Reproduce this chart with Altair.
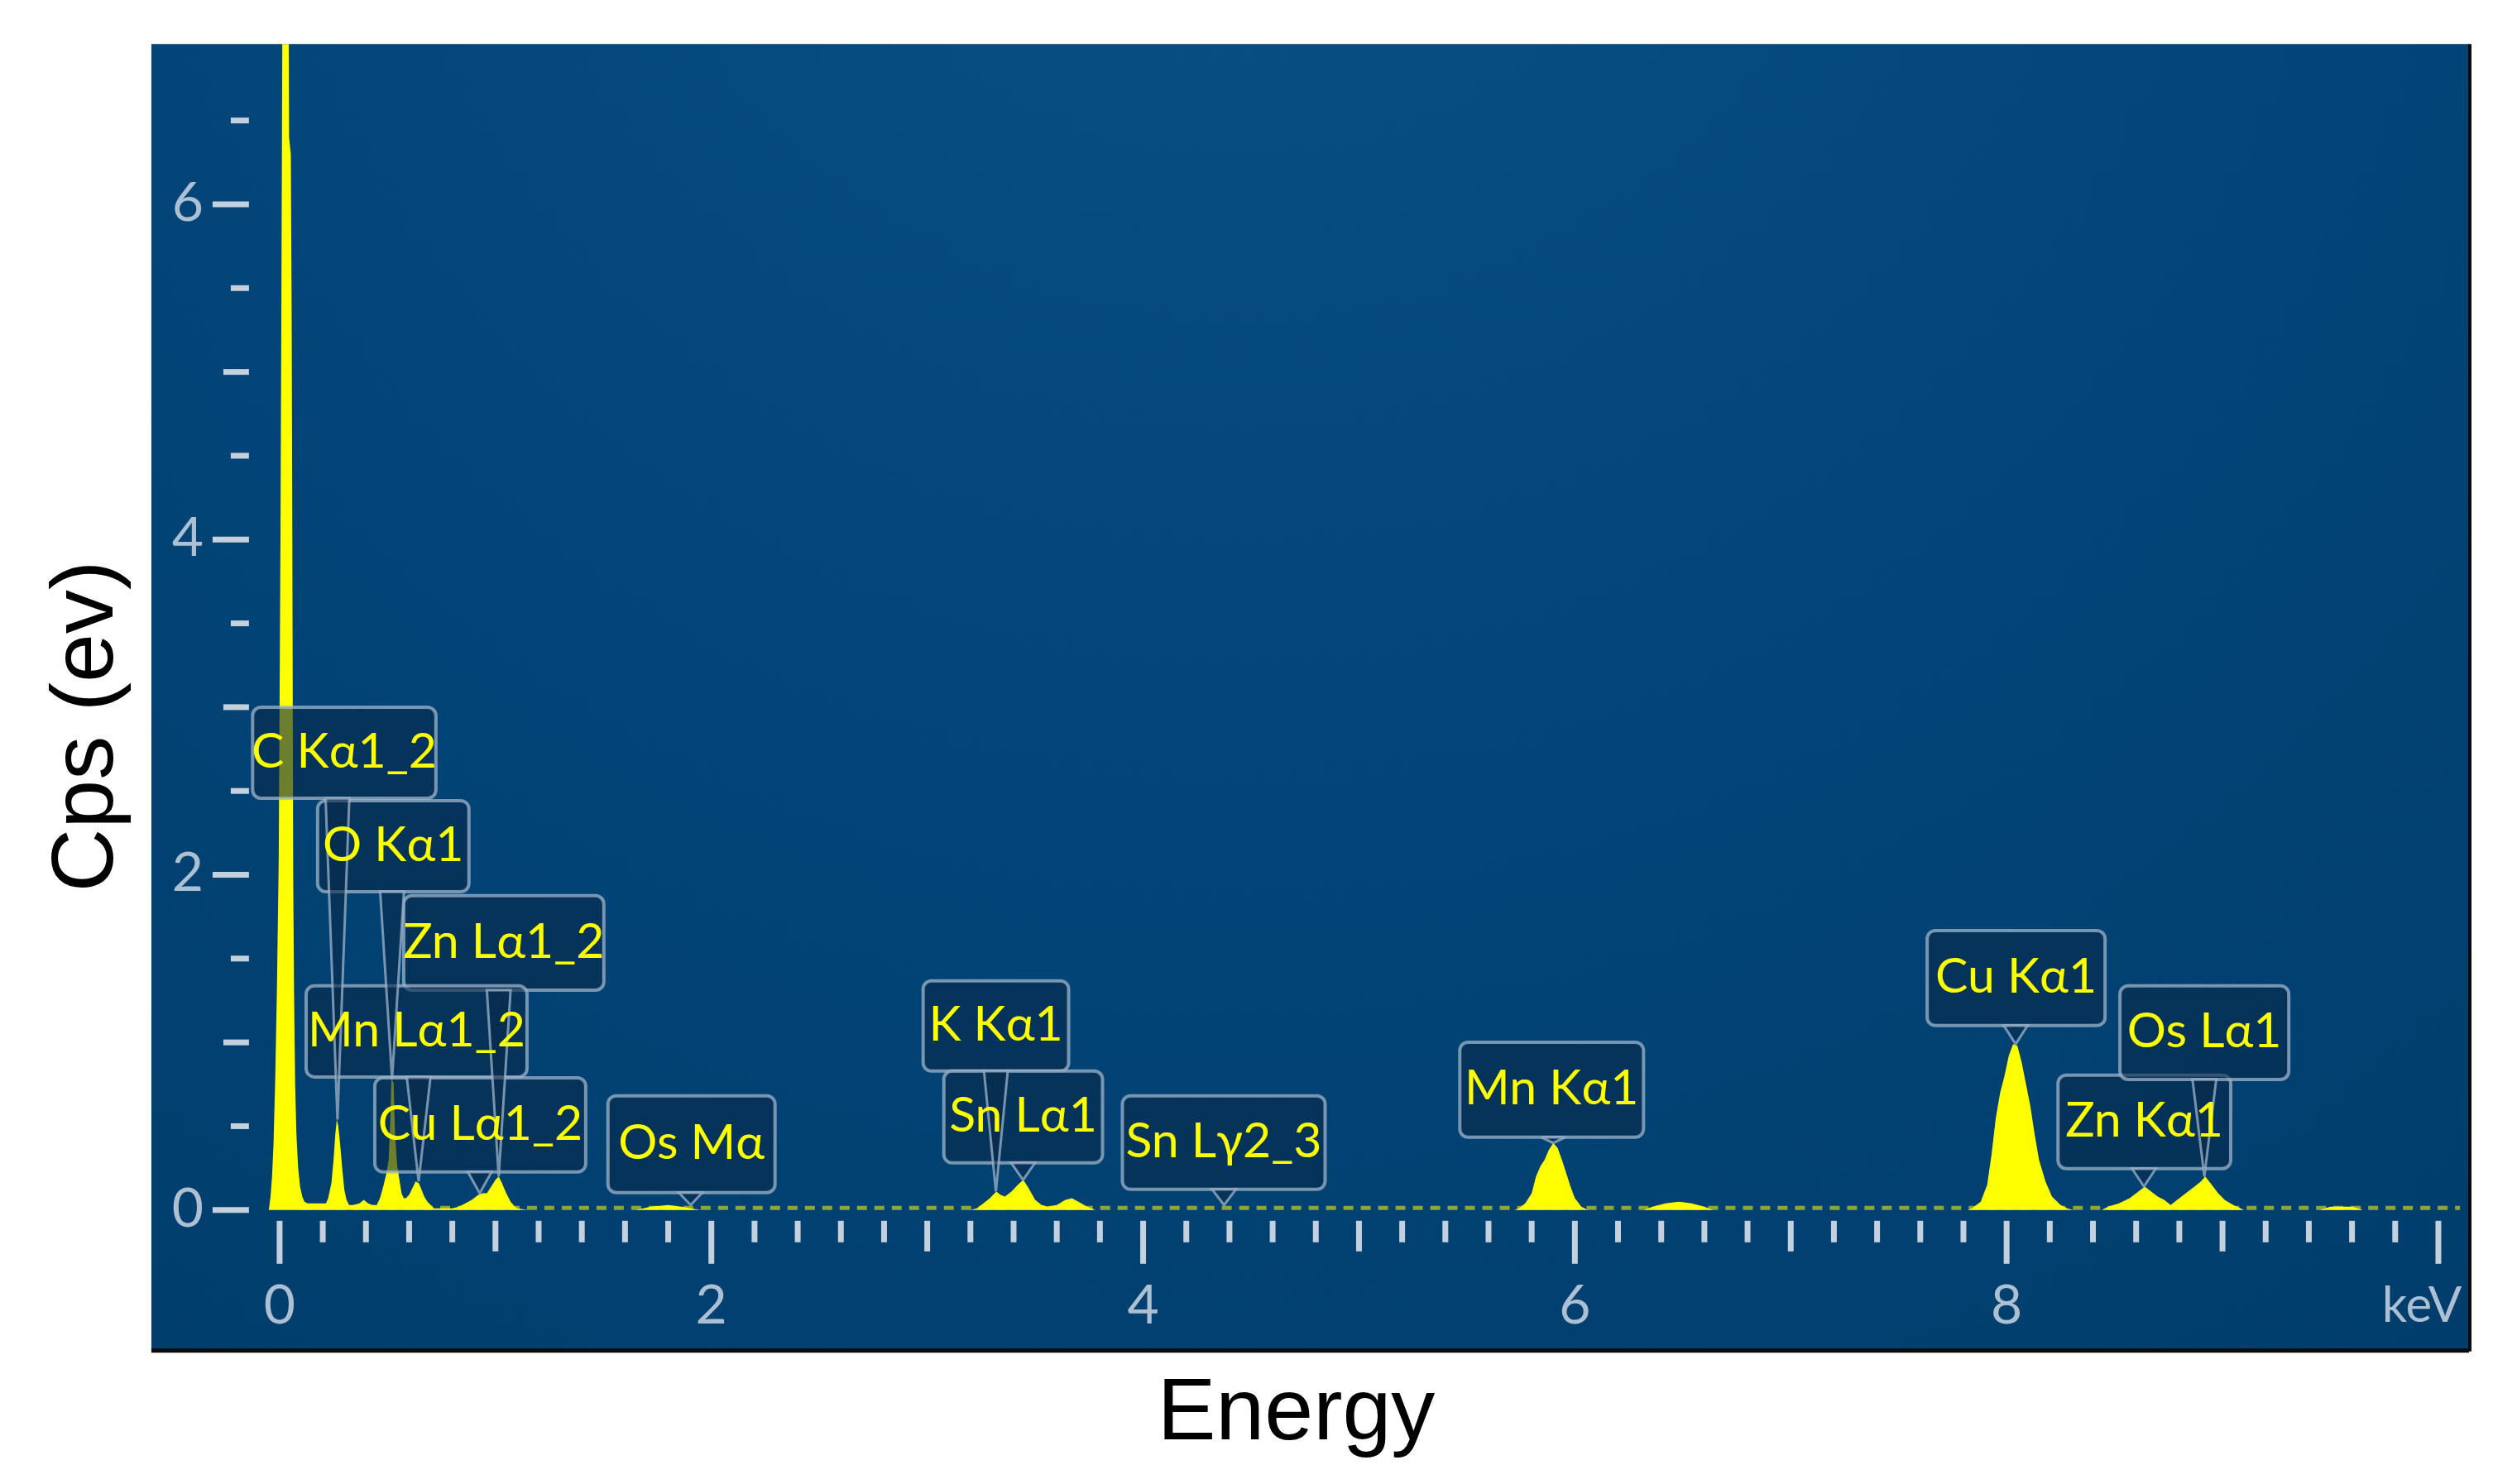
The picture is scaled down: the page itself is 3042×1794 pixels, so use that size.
import altair as alt
import pandas as pd

# ---------------- spectrum ----------------
energy_kev = [
    -0.05, -0.042, -0.035, -0.028, -0.02, -0.012, -0.004, 0.004, 0.008, 0.011, 0.013, 0.015,
    0.041, 0.044, 0.052, 0.056, 0.059, 0.063, 0.067, 0.072, 0.078, 0.086, 0.095, 0.105, 0.115, 0.13,
    0.16, 0.2, 0.215, 0.225, 0.24, 0.25, 0.258, 0.265, 0.272, 0.28, 0.29, 0.30, 0.31, 0.322,
    0.34, 0.37, 0.39, 0.41, 0.43, 0.45, 0.465, 0.48, 0.495, 0.505, 0.512, 0.518, 0.528, 0.535,
    0.545, 0.555, 0.565, 0.575,
    0.585, 0.6, 0.615, 0.63, 0.645, 0.655, 0.67, 0.685, 0.7, 0.715,
    0.75, 0.8, 0.83, 0.86, 0.89, 0.92, 0.94, 0.96, 0.98, 1.0, 1.015, 1.03, 1.05, 1.07, 1.09, 1.1,
    1.15, 1.65, 1.72, 1.8, 1.86, 1.95,
    3.2, 3.23, 3.26, 3.29, 3.32, 3.34, 3.36, 3.39, 3.42, 3.445, 3.47, 3.5, 3.53, 3.56, 3.6,
    3.64, 3.67, 3.7, 3.74, 3.78,
    5.72, 5.74, 5.77, 5.8, 5.82, 5.84, 5.86, 5.88, 5.9, 5.92, 5.94, 5.96, 5.98, 6.0, 6.03, 6.06,
    6.32, 6.36, 6.42, 6.48, 6.54, 6.6, 6.64,
    7.82, 7.84, 7.88, 7.91, 7.93, 7.95, 7.97, 7.99, 8.01, 8.03, 8.05, 8.07, 8.09, 8.11, 8.13,
    8.15, 8.18, 8.21, 8.25, 8.28, 8.31,
    8.44, 8.47, 8.52, 8.57, 8.61, 8.64, 8.67, 8.7, 8.73, 8.76, 8.79, 8.83, 8.87, 8.9, 8.92,
    8.95, 8.98, 9.01, 9.05, 9.1,
    9.45, 9.5, 9.6, 9.65, 10.1,
]
counts_cps = [
    0.0, 0.08, 0.2, 0.4, 0.8, 1.35, 2.1, 4.0, 5.3, 6.4, 7.2, 7.6,
    7.6, 6.4, 6.3, 5.3, 4.0, 2.0, 1.3, 0.75, 0.45, 0.25, 0.14, 0.08, 0.05, 0.04,
    0.04, 0.04, 0.04, 0.07, 0.16, 0.3, 0.45, 0.54, 0.5, 0.4, 0.25, 0.12, 0.06, 0.03,
    0.03, 0.04, 0.06, 0.04, 0.03, 0.03, 0.07, 0.14, 0.22, 0.3, 0.5, 0.78, 0.76, 0.45,
    0.26, 0.18, 0.1, 0.07,
    0.07, 0.09, 0.13, 0.17, 0.16, 0.13, 0.08, 0.05, 0.03, 0.01,
    0.01, 0.01, 0.02, 0.04, 0.06, 0.09, 0.1, 0.1, 0.14, 0.18, 0.2, 0.16, 0.1, 0.05, 0.02, 0.01,
    0.0, 0.0, 0.02, 0.03, 0.02, 0.0,
    0.0, 0.01, 0.04, 0.07, 0.11, 0.09, 0.08, 0.11, 0.15, 0.18, 0.13, 0.06, 0.03, 0.02, 0.03,
    0.06, 0.07, 0.05, 0.02, 0.0,
    0.0, 0.01, 0.04, 0.1, 0.2, 0.26, 0.3, 0.36, 0.4, 0.37, 0.3, 0.22, 0.14, 0.07, 0.02, 0.0,
    0.0, 0.02, 0.04, 0.05, 0.04, 0.02, 0.0,
    0.0, 0.01, 0.05, 0.15, 0.33, 0.55, 0.7, 0.8, 0.92, 0.99, 0.98, 0.88, 0.75, 0.62, 0.45,
    0.3, 0.17, 0.08, 0.03, 0.01, 0.0,
    0.0, 0.02, 0.04, 0.07, 0.11, 0.14, 0.11, 0.08, 0.06, 0.03, 0.06, 0.1, 0.14, 0.17, 0.2,
    0.15, 0.1, 0.06, 0.03, 0.0,
    0.0, 0.02, 0.02, 0.0, 0.0,
]

# ---------------- peak labels ----------------
label_text = ["C Kα1_2", "O Kα1", "Zn Lα1_2", "Mn Lα1_2", "Cu Lα1_2", "Os Mα", "K Kα1",
              "Sn Lα1", "Sn Lγ2_3", "Mn Kα1", "Cu Kα1", "Zn Kα1", "Os Lα1"]
peak_kev = [0.268, 0.521, 1.015, 0.644, 0.927, 1.904, 3.318, 3.444, 4.375, 5.9, 8.042, 8.636, 8.916]
peak_cps = [0.54, 0.78, 0.2, 0.17, 0.1, 0.03, 0.11, 0.18, 0.03, 0.4, 0.99, 0.14, 0.2]
box_left = [-0.125, 0.176, 0.575, 0.123, 0.441, 1.521, 2.981, 3.077, 3.904, 5.467, 7.632, 8.238, 8.525]
box_right = [0.724, 0.877, 1.502, 1.146, 1.418, 2.295, 3.655, 3.812, 4.843, 6.318, 8.456, 9.038, 9.307]
box_top = [2.999, 2.442, 1.875, 1.337, 0.789, 0.681, 1.367, 0.829, 0.681, 1.001, 1.667, 0.804, 1.337]
box_bottom = [2.457, 1.899, 1.312, 0.794, 0.227, 0.104, 0.829, 0.281, 0.123, 0.434, 1.1, 0.247, 0.779]

# ---------------- axis ticks and titles ----------------
x_major = [0, 2, 4, 6, 8, 10]
x_major_labels = ["0", "2", "4", "6", "8", ""]
x_unit_label = ["keV"]
x_mid = [1, 3, 5, 7, 9]
x_minor = [round(0.2 * i, 1) for i in range(51) if i % 5 != 0]
y_major = [0, 2, 4, 6]
y_major_labels = ["0", "2", "4", "6"]
y_mid = [1, 3, 5]
y_minor = [0.5, 1.5, 2.5, 3.5, 4.5, 5.5, 6.5]
x_title = ["Energy"]
y_title = ["Cps (ev)"]

# ---------------- layout / style ----------------
W, H = 2802, 1579
X_DOMAIN = [-0.594, 10.142]
Y_DOMAIN = [-0.834, 6.956]
LABEL_FONT = "Lato, Liberation Sans"
TITLE_FONT = "Liberation Sans"
TICK_COL = "#c4d0dc"
LABEL_COL = "#adc0d3"
YELLOW = "#ffff00"

xs = alt.Scale(domain=X_DOMAIN, nice=False, zero=False)
ys = alt.Scale(domain=Y_DOMAIN, nice=False, zero=False)

spec_df = pd.DataFrame({"keV": energy_kev, "cps": counts_cps})
lab_df = pd.DataFrame({
    "label": label_text, "pk": peak_kev, "pc": peak_cps,
    "x0": box_left, "x1": box_right, "y0": box_bottom, "y1": box_top,
})
lab_df["tx"] = (lab_df["x0"] + lab_df["x1"]) / 2
lab_df["ty"] = (lab_df["y0"] + lab_df["y1"]) / 2

half_base = 0.055
ptr_rows = []
for _, r in lab_df.iterrows():
    ptr_rows.append({"label": r["label"], "py": r["y0"], "px": r["pk"] - half_base, "px2": r["pk"] + half_base})
    ptr_rows.append({"label": r["label"], "py": r["pc"], "px": r["pk"], "px2": r["pk"]})
ptr_df = pd.DataFrame(ptr_rows)

one = pd.DataFrame({"a": [0]})

bg = alt.Chart(one).mark_rect(
    fill=alt.RadialGradient(
        gradient="radial", x1=0.47, y1=0.05, r1=0.0, x2=0.47, y2=0.05, r2=0.9,
        stops=[alt.GradientStop(offset=0, color="#0a5283"),
               alt.GradientStop(offset=0.5, color="#03467a"),
               alt.GradientStop(offset=1, color="#003d6b")],
    )
).encode(x=alt.value(0), x2=alt.value(W), y=alt.value(0), y2=alt.value(H))

baseline = alt.Chart(pd.DataFrame({"x0": [0.1], "x1": [10.1], "y": [0.012]})).mark_rule(
    color="#c8d21e", strokeWidth=5, strokeDash=[12, 9], opacity=0.7
).encode(x=alt.X("x0:Q", scale=xs, axis=None), x2="x1:Q", y=alt.Y("y:Q", scale=ys, axis=None))

spectrum = alt.Chart(spec_df).mark_area(color=YELLOW, clip=True, interpolate="linear").encode(
    x=alt.X("keV:Q", scale=xs, axis=None),
    y=alt.Y("cps:Q", scale=ys, axis=None),
)


def xticks(vals, length):
    return alt.Chart(pd.DataFrame({"v": vals})).mark_rule(
        color=TICK_COL, strokeWidth=7
    ).encode(x=alt.X("v:Q", scale=xs, axis=None), y=alt.value(1423), y2=alt.value(1423 + length))


def yticks(vals, start):
    return alt.Chart(pd.DataFrame({"v": vals})).mark_rule(
        color=TICK_COL, strokeWidth=7
    ).encode(y=alt.Y("v:Q", scale=ys, axis=None), x=alt.value(start), x2=alt.value(118))


x_tick_layers = [xticks(x_minor, 26), xticks(x_mid, 37), xticks(x_major, 52)]
y_tick_layers = [yticks(y_minor, 96), yticks(y_mid, 87), yticks(y_major, 74)]

x_labels = alt.Chart(pd.DataFrame({"v": x_major, "t": x_major_labels})).mark_text(
    font=LABEL_FONT, fontSize=66, color=LABEL_COL, align="center", baseline="middle"
).encode(x=alt.X("v:Q", scale=xs, axis=None), y=alt.value(1527), text="t:N")

unit_label = alt.Chart(pd.DataFrame({"v": [10], "t": x_unit_label})).mark_text(
    font=LABEL_FONT, fontSize=60, color=LABEL_COL, align="center", baseline="middle", dx=-20
).encode(x=alt.X("v:Q", scale=xs, axis=None), y=alt.value(1527), text="t:N")

y_labels = alt.Chart(pd.DataFrame({"v": y_major, "t": y_major_labels})).mark_text(
    font=LABEL_FONT, fontSize=66, color=LABEL_COL, align="right", baseline="middle"
).encode(y=alt.Y("v:Q", scale=ys, axis=None), x=alt.value(63), text="t:N")

boxes = alt.Chart(lab_df).mark_rect(
    fill="#092a49", fillOpacity=0.6, stroke="#9fb4c9", strokeOpacity=0.75,
    strokeWidth=4, cornerRadius=10
).encode(x=alt.X("x0:Q", scale=xs, axis=None), x2="x1:Q",
         y=alt.Y("y0:Q", scale=ys, axis=None), y2="y1:Q")

pointers = alt.Chart(ptr_df).mark_area(
    orient="horizontal", fill="#092a49", fillOpacity=0.6, stroke="#9fb4c9",
    strokeOpacity=0.75, strokeWidth=3
).encode(y=alt.Y("py:Q", scale=ys, axis=None), x=alt.X("px:Q", scale=xs, axis=None),
         x2="px2:Q", detail="label:N")

texts = alt.Chart(lab_df).mark_text(
    font=LABEL_FONT, fontSize=59, color=YELLOW, align="center", baseline="middle"
).encode(x=alt.X("tx:Q", scale=xs, axis=None), y=alt.Y("ty:Q", scale=ys, axis=None), text="label:N")

energy_title = alt.Chart(pd.DataFrame({"t": x_title})).mark_text(
    font=TITLE_FONT, fontSize=106, color="#000000", align="center", baseline="alphabetic"
).encode(x=alt.value(1384), y=alt.value(1687), text="t:N")

cps_title = alt.Chart(pd.DataFrame({"t": y_title})).mark_text(
    font=TITLE_FONT, fontSize=106, color="#000000", align="center", baseline="alphabetic",
    angle=270
).encode(x=alt.value(-47), y=alt.value(825), text="t:N")

shadow_bottom = alt.Chart(one).mark_rule(color="#0a0a0a", strokeWidth=5).encode(
    x=alt.value(0), x2=alt.value(W), y=alt.value(H + 1))
shadow_right = alt.Chart(one).mark_rule(color="#0a0a0a", strokeWidth=4).encode(
    x=alt.value(W + 1), y=alt.value(0), y2=alt.value(H + 2))

chart = alt.layer(
    bg, baseline, spectrum, *x_tick_layers, *y_tick_layers, x_labels, unit_label, y_labels,
    boxes, pointers, texts, shadow_bottom, shadow_right, energy_title, cps_title,
).properties(
    width=W, height=H, autosize="none",
    padding={"left": 175, "top": 45, "right": 50, "bottom": 150},
).configure_view(stroke=None).configure(background="#ffffff")

chart.save("out.html", embed_options={"renderer": "svg", "actions": False})
